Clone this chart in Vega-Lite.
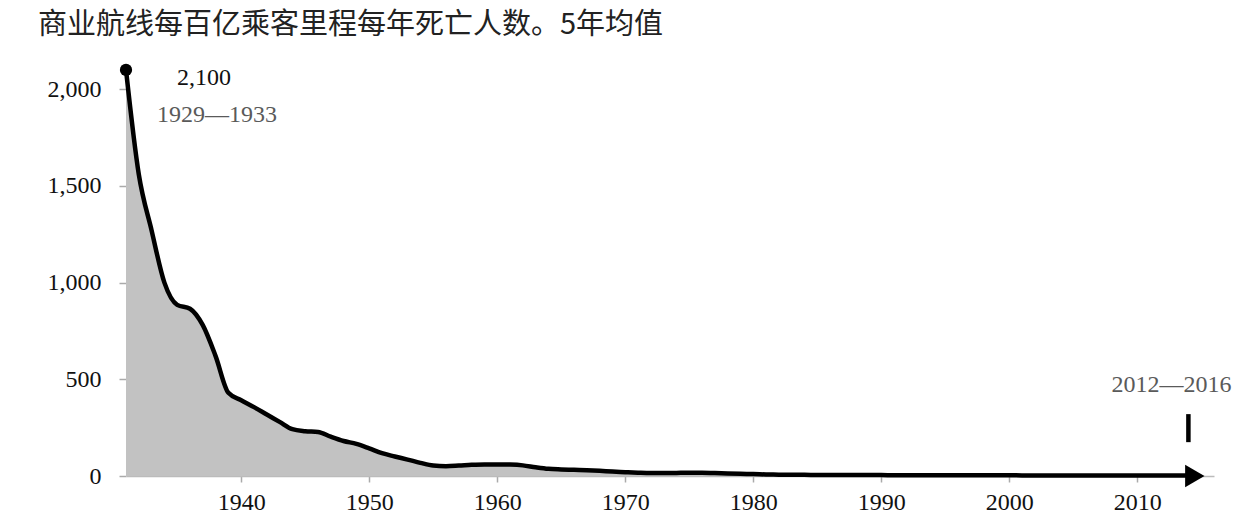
{
  "$schema": "https://vega.github.io/schema/vega-lite/v6.json",
  "width": 1088,
  "height": 426,
  "autosize": {"type": "none"},
  "padding": {"left": 126, "top": 50, "right": 38, "bottom": 52},
  "background": "white",
  "config": {"view": {"stroke": null}, "font": "Liberation Serif"},
  "title": {
    "text": "商业航线每百亿乘客里程每年死亡人数。5年均值",
    "anchor": "start",
    "frame": "group",
    "dx": -88,
    "dy": 29,
    "offset": 16,
    "baseline": "alphabetic",
    "font": "Noto Sans CJK SC",
    "fontSize": 29,
    "fontWeight": "normal",
    "color": "#222"
  },
  "datasets": {
    "rate": [
      {"year": 1931, "value": 2100}, {"year": 1932, "value": 1560}, {"year": 1933, "value": 1270},
      {"year": 1934, "value": 1000}, {"year": 1935, "value": 885}, {"year": 1936, "value": 865},
      {"year": 1937, "value": 780}, {"year": 1938, "value": 620}, {"year": 1939, "value": 430},
      {"year": 1940, "value": 392}, {"year": 1941, "value": 356}, {"year": 1942, "value": 318},
      {"year": 1943, "value": 280}, {"year": 1944, "value": 242}, {"year": 1945, "value": 232},
      {"year": 1946, "value": 228}, {"year": 1947, "value": 203}, {"year": 1948, "value": 181},
      {"year": 1949, "value": 166}, {"year": 1950, "value": 143}, {"year": 1951, "value": 118},
      {"year": 1952, "value": 101}, {"year": 1953, "value": 85}, {"year": 1954, "value": 68},
      {"year": 1955, "value": 54}, {"year": 1956, "value": 51}, {"year": 1957, "value": 54},
      {"year": 1958, "value": 58}, {"year": 1959, "value": 60}, {"year": 1960, "value": 60},
      {"year": 1961, "value": 59}, {"year": 1962, "value": 55}, {"year": 1963, "value": 45},
      {"year": 1964, "value": 37}, {"year": 1965, "value": 34}, {"year": 1966, "value": 32},
      {"year": 1967, "value": 30}, {"year": 1968, "value": 27}, {"year": 1969, "value": 23},
      {"year": 1970, "value": 20}, {"year": 1971, "value": 17}, {"year": 1972, "value": 15},
      {"year": 1973, "value": 15}, {"year": 1974, "value": 16}, {"year": 1975, "value": 17},
      {"year": 1976, "value": 17}, {"year": 1977, "value": 15}, {"year": 1978, "value": 13},
      {"year": 1979, "value": 11}, {"year": 1980, "value": 10}, {"year": 1981, "value": 8},
      {"year": 1982, "value": 7}, {"year": 1983, "value": 6}, {"year": 1984, "value": 6},
      {"year": 1985, "value": 5}, {"year": 1986, "value": 5}, {"year": 1987, "value": 5},
      {"year": 1988, "value": 5}, {"year": 1989, "value": 5}, {"year": 1990, "value": 5},
      {"year": 1991, "value": 4}, {"year": 1992, "value": 4}, {"year": 1993, "value": 4},
      {"year": 1994, "value": 4}, {"year": 1995, "value": 4}, {"year": 1996, "value": 4},
      {"year": 1997, "value": 4}, {"year": 1998, "value": 4}, {"year": 1999, "value": 4},
      {"year": 2000, "value": 4}, {"year": 2001, "value": 3}, {"year": 2002, "value": 3},
      {"year": 2003, "value": 3}, {"year": 2004, "value": 3}, {"year": 2005, "value": 3},
      {"year": 2006, "value": 3}, {"year": 2007, "value": 3}, {"year": 2008, "value": 3},
      {"year": 2009, "value": 3}, {"year": 2010, "value": 3}, {"year": 2011, "value": 3},
      {"year": 2012, "value": 3}, {"year": 2013, "value": 3}, {"year": 2014, "value": 3}
    ]
  },
  "encoding": {
    "x": {
      "field": "year", "type": "quantitative",
      "scale": {"domain": [1931, 2016], "nice": false, "zero": false},
      "axis": {
        "values": [1940, 1950, 1960, 1970, 1980, 1990, 2000, 2010],
        "format": "d", "title": null, "grid": false,
        "domain": true, "domainColor": "#bbbbbb", "domainWidth": 1.5,
        "tickColor": "#aaaaaa", "tickSize": 6, "tickWidth": 1.5,
        "labelFont": "Liberation Serif", "labelFontSize": 24, "labelColor": "#111111",
        "labelPadding": 8
      }
    },
    "y": {
      "field": "value", "type": "quantitative",
      "scale": {"domain": [0, 2203], "nice": false},
      "axis": {
        "values": [0, 500, 1000, 1500, 2000],
        "format": ",d", "title": null, "grid": false, "domain": false,
        "tickColor": "#aaaaaa", "tickSize": 7, "tickWidth": 1.5,
        "labelFont": "Liberation Serif", "labelFontSize": 24, "labelColor": "#111111",
        "labelPadding": 18
      }
    }
  },
  "layer": [
    {
      "data": {"name": "rate"},
      "mark": {"type": "area", "color": "#c2c2c2", "interpolate": "monotone"}
    },
    {
      "data": {"name": "rate"},
      "mark": {"type": "line", "color": "#000000", "strokeWidth": 4.5, "interpolate": "monotone"}
    },
    {
      "data": {"values": [{"year": 1931, "value": 2100}]},
      "mark": {"type": "point", "filled": true, "color": "#000000", "opacity": 1, "size": 150}
    },
    {
      "data": {"values": [{"year": 2014.5, "value": 0}]},
      "mark": {"type": "point", "shape": "triangle-right", "filled": true, "color": "#000000", "opacity": 1, "size": 500}
    },
    {
      "data": {"values": [{"year": 2014, "value": 175, "value2": 320}]},
      "mark": {"type": "rule", "color": "#000000", "strokeWidth": 4.5},
      "encoding": {"y2": {"field": "value2"}}
    },
    {
      "data": {"values": [{"year": 1931, "value": 2100, "label": "2,100"}]},
      "mark": {"type": "text", "font": "Liberation Serif", "fontSize": 24, "color": "#111111", "align": "center", "baseline": "middle", "dx": 78, "dy": 8},
      "encoding": {"text": {"field": "label"}}
    },
    {
      "data": {"values": [{"year": 1931, "value": 2100, "label": "1929—1933"}]},
      "mark": {"type": "text", "font": "Liberation Serif", "fontSize": 24, "color": "#5a5a5a", "align": "center", "baseline": "middle", "dx": 91, "dy": 45},
      "encoding": {"text": {"field": "label"}}
    },
    {
      "data": {"values": [{"year": 2014, "value": 470, "label": "2012—2016"}]},
      "mark": {"type": "text", "font": "Liberation Serif", "fontSize": 24, "color": "#5a5a5a", "align": "center", "baseline": "middle", "dx": -17},
      "encoding": {"text": {"field": "label"}}
    }
  ]
}
